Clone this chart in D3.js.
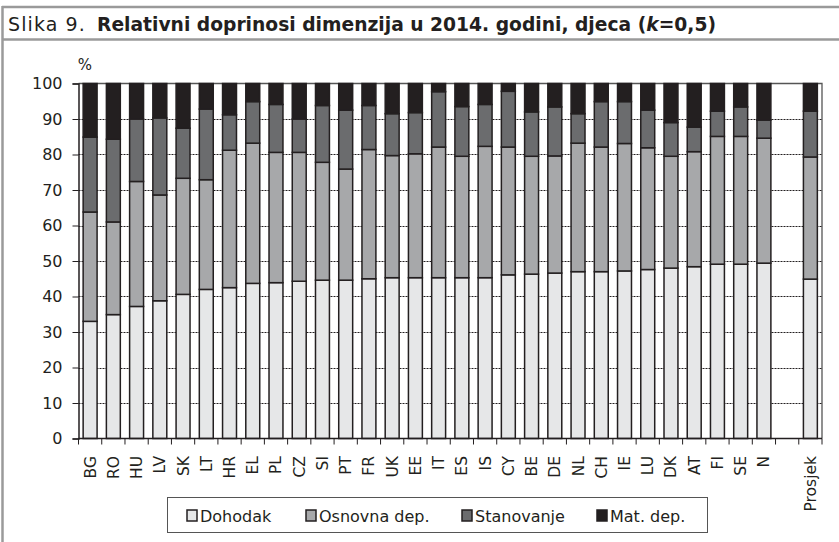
<!DOCTYPE html>
<html><head><meta charset="utf-8">
<script src="https://cdn.jsdelivr.net/npm/d3@7"></script>
<style>
html,body{margin:0;padding:0;background:#fff;}
svg{display:block;}
</style></head>
<body>
<svg id="chart" width="839" height="542"></svg>
<script>
const countries = ["BG","RO","HU","LV","SK","LT","HR","EL","PL","CZ","SI","PT","FR","UK","EE","IT","ES","IS","CY","BE","DE","NL","CH","IE","LU","DK","AT","FI","SE","N","","Prosjek"];
const dohodak    = [33.0,34.9,37.2,38.8,40.6,42.0,42.5,43.7,43.9,44.3,44.6,44.6,45.0,45.3,45.3,45.3,45.3,45.3,46.1,46.3,46.6,47.0,47.0,47.2,47.6,48.0,48.4,49.1,49.1,49.4,0,44.9];
const osnovnaDep = [30.8,26.1,35.2,29.8,32.7,30.9,38.7,39.5,36.7,36.3,33.2,31.3,36.4,34.4,34.9,36.8,34.2,37.0,36.0,33.2,33.0,36.2,35.1,35.9,34.3,31.5,32.4,36.0,36.0,35.2,0,34.4];
const stanovanje = [21.1,23.3,17.6,21.7,14.1,19.9,10.0,11.7,13.5,9.4,16.0,16.6,12.4,11.8,11.6,15.6,14.0,11.8,15.7,12.5,13.8,8.3,12.8,11.8,10.6,9.5,6.9,7.1,8.3,5.1,0,12.9];
const matDep     = [15.1,15.7,10.0,9.7,12.6,7.2,8.8,5.1,5.9,10.0,6.2,7.5,6.2,8.5,8.2,2.3,6.5,5.9,2.2,8.0,6.6,8.5,5.1,5.1,7.5,11.0,12.3,7.8,6.6,10.3,0,7.8];
const seriesNames = ["Dohodak","Osnovna dep.","Stanovanje","Mat. dep."];
const seriesColors = ["#e6e7e8","#a7a8aa","#6b6c6e","#231f20"];
const yTicks = [0,10,20,30,40,50,60,70,80,90,100];

const FONT = "'DejaVu Sans', sans-serif";
const svg = d3.select("#chart");

// frame
svg.append("line").attr("x1",2).attr("x2",839).attr("y1",7).attr("y2",7).attr("stroke","#9a9a9a").attr("stroke-width",2.5);
svg.append("line").attr("x1",2).attr("x2",839).attr("y1",39.5).attr("y2",39.5).attr("stroke","#9a9a9a").attr("stroke-width",2.5);
svg.append("line").attr("x1",2.5).attr("x2",2.5).attr("y1",6).attr("y2",542).attr("stroke","#9a9a9a").attr("stroke-width",2.5);

svg.append("text").attr("x",8).attr("y",31).attr("font-family",FONT).attr("font-size",19).attr("letter-spacing",1.1).attr("fill","#231f20").text("Slika 9.");
const tb = svg.append("text").attr("x",97).attr("y",31).attr("font-family",FONT).attr("font-size",18.7).attr("font-weight","bold").attr("fill","#231f20");
tb.append("tspan").text("Relativni doprinosi dimenzija u 2014. godini, djeca (");
tb.append("tspan").attr("font-style","italic").text("k");
tb.append("tspan").text("=0,5)");

const margin = {left:78.5, right:822, top:83.5, bottom:438.5};
const keys = countries.map((c,i)=> c===""? "_gap"+i : c);
const x = d3.scaleBand().domain(keys).range([margin.left, margin.right]).paddingInner(0.4).paddingOuter(0.2);
const y = d3.scaleLinear().domain([0,100]).range([margin.bottom, margin.top]);

// plot border (top and right)
svg.append("path").attr("d",`M${margin.left},${margin.top}H${margin.right}V${margin.bottom}`).attr("fill","none").attr("stroke","#555").attr("stroke-width",1.3);

// gridlines
svg.append("g").selectAll("line").data(yTicks.filter(t=>t>0&&t<100)).join("line")
  .attr("x1",margin.left).attr("x2",margin.right).attr("y1",d=>Math.round(y(d))+0.5).attr("y2",d=>Math.round(y(d))+0.5)
  .attr("stroke","#231f20").attr("stroke-width",1).attr("stroke-dasharray","2,1");

// stacked data
const table = countries.map((c,i)=>({key:keys[i], "Dohodak":dohodak[i], "Osnovna dep.":osnovnaDep[i], "Stanovanje":stanovanje[i], "Mat. dep.":matDep[i]}));
const stack = d3.stack().keys(seriesNames)(table);
svg.append("g").selectAll("g").data(stack).join("g")
  .attr("fill",(d,i)=>seriesColors[i])
  .selectAll("rect").data(d=>d.filter(p=>p[1]-p[0]>0)).join("rect")
  .attr("x",d=>x(d.data.key)).attr("width",x.bandwidth())
  .attr("y",d=>y(d[1])).attr("height",d=>y(d[0])-y(d[1]))
  .attr("stroke","#231f20").attr("stroke-width",1.5);

// y axis
const yAxis = svg.append("g").attr("transform",`translate(${margin.left},0)`)
  .call(d3.axisLeft(y).tickValues(yTicks).tickSize(6).tickPadding(10));
yAxis.select(".domain").attr("stroke","#231f20").attr("stroke-width",1.5);
yAxis.selectAll(".tick line").attr("stroke","#231f20");
yAxis.selectAll("text").attr("font-family",FONT).attr("font-size",16).attr("fill","#231f20");

svg.append("text").attr("x",85).attr("y",70).attr("text-anchor","middle").attr("font-family",FONT).attr("font-size",15).attr("fill","#231f20").text("%");

// x axis
const xb = d3.scaleLinear().domain([0,keys.length]).range([margin.left, margin.right]);
const xg = svg.append("g");
xg.append("line").attr("x1",margin.left).attr("x2",margin.right).attr("y1",margin.bottom).attr("y2",margin.bottom).attr("stroke","#231f20").attr("stroke-width",1.5);
xg.selectAll("line.t").data(d3.range(keys.length+1)).join("line").attr("class","t")
  .attr("x1",d=>xb(d)).attr("x2",d=>xb(d)).attr("y1",margin.bottom).attr("y2",margin.bottom+6).attr("stroke","#231f20");
xg.selectAll("text").data(countries).join("text")
  .attr("transform",(d,i)=>`translate(${x(keys[i])+x.bandwidth()/2+5.5},456) rotate(-90)`)
  .attr("text-anchor","end").attr("font-family",FONT).attr("font-size",15.5).attr("fill","#231f20").text(d=>d);

// legend
const lg = svg.append("g");
lg.append("rect").attr("x",167.5).attr("y",497.5).attr("width",540).attr("height",35).attr("fill","#fff").attr("stroke","#555").attr("stroke-width",1);
const legendX = [187,306,462,597];
seriesNames.forEach((n,i)=>{
  lg.append("rect").attr("x",legendX[i]).attr("y",510).attr("width",10).attr("height",11).attr("fill",seriesColors[i]).attr("stroke","#231f20").attr("stroke-width",1.5);
  lg.append("text").attr("x",legendX[i]+13).attr("y",521.5).attr("font-family",FONT).attr("font-size",16).attr("fill","#231f20").text(n);
});
</script>
</body></html>
